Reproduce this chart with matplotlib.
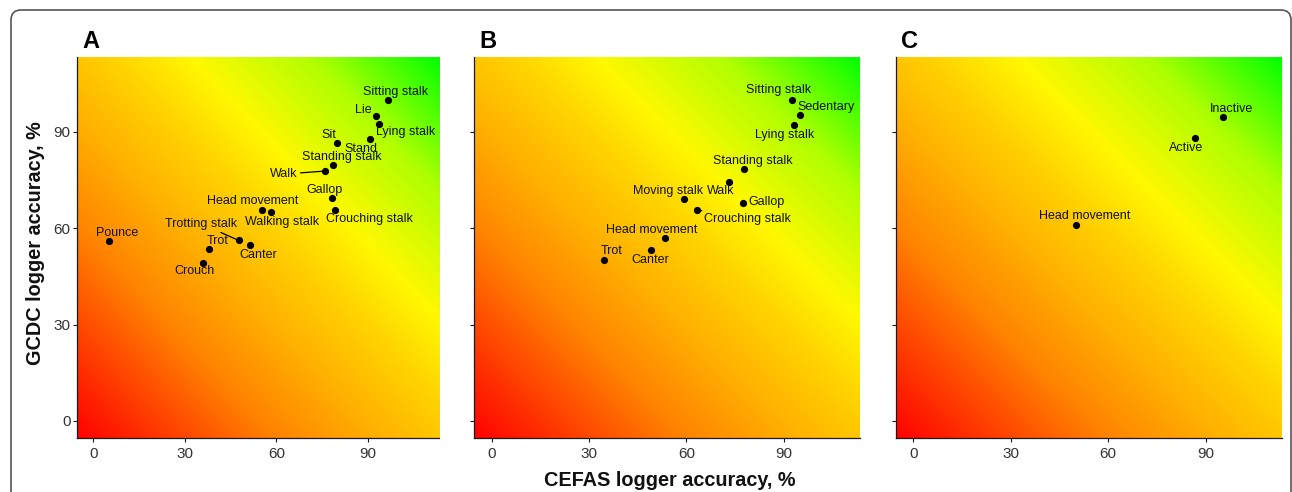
import numpy as np
import matplotlib
matplotlib.use("Agg")
import matplotlib.pyplot as plt
from matplotlib.patches import FancyBboxPatch
from matplotlib.transforms import IdentityTransform

plt.rcParams['font.family'] = ['Liberation Sans', 'DejaVu Sans']

# ---------------- data ----------------
a_labels = ["Sitting stalk", "Lie", "Lying stalk", "Stand", "Sit", "Standing stalk",
            "Walk", "Gallop", "Crouching stalk", "Head movement", "Walking stalk",
            "Trotting stalk", "Canter", "Trot", "Crouch", "Pounce"]
a_cefas = [96.6, 92.8, 93.7, 90.6, 79.9, 78.7, 76.1, 78.4, 79.2, 55.3, 58.4, 47.7, 51.3, 37.8, 35.8, 5.2]
a_gcdc = [99.8, 95.0, 92.6, 87.7, 86.4, 79.8, 77.8, 69.3, 65.7, 65.8, 65.1, 56.2, 54.7, 53.4, 49.3, 55.9]

b_labels = ["Sitting stalk", "Sedentary", "Lying stalk", "Standing stalk", "Walk",
            "Moving stalk", "Gallop", "Crouching stalk", "Head movement", "Canter", "Trot"]
b_cefas = [92.5, 95.0, 93.2, 77.6, 73.2, 59.2, 77.5, 63.3, 53.5, 49.1, 34.5]
b_gcdc = [99.8, 95.3, 92.1, 78.4, 74.4, 69.1, 67.9, 65.7, 57.0, 53.3, 50.2]

c_labels = ["Inactive", "Active", "Head movement"]
c_cefas = [95.2, 86.6, 50.1]
c_gcdc = [94.6, 88.0, 61.1]

panel_letters = ["A", "B", "C"]
tick_values = [0, 30, 60, 90]
x_title = "CEFAS logger accuracy, %"
y_title = "GCDC logger accuracy, %"

# ---------------- layout / style ----------------
W, H = 1292, 492
LIM = (-5.4, 113.4)

# label offsets in pixels (dx, dy up) relative to the point
a_off = {"Sitting stalk": (8, 8.7), "Lie": (-12.7, 5.7), "Lying stalk": (26.7, -8.3),
         "Stand": (-8.3, -9.3), "Sit": (-8.3, 8.7), "Standing stalk": (8.3, 8),
         "Walk": (-41.3, -3), "Gallop": (-8.3, 8.3), "Crouching stalk": (34.7, -9),
         "Head movement": (-9.7, 8.7), "Walking stalk": (10.3, -9.7),
         "Trotting stalk": (-37.7, 16.7), "Canter": (8, -9.3), "Trot": (8.7, 8.7),
         "Crouch": (-8.3, -8.7), "Pounce": (8, 8.7)}
b_off = {"Sitting stalk": (-13.7, 10.3), "Sedentary": (25.7, 7.7), "Lying stalk": (-9.3, -10),
         "Standing stalk": (9, 8.3), "Walk": (-8.7, -8.7), "Moving stalk": (-15.7, 8.3),
         "Gallop": (22.7, 0.7), "Crouching stalk": (50.7, -9), "Head movement": (-14, 8),
         "Canter": (-1, -10), "Trot": (8.3, 8.3)}
c_off = {"Inactive": (8.7, 8.3), "Active": (-9, -9.3), "Head movement": (8.7, 9)}
a_seg = {"Walk", "Trotting stalk"}
b_seg = {"Crouching stalk"}
c_seg = set()

# axes rectangles in pixels: left, right (top/bottom shared)
ax_px = [(77, 439), (474, 860), (895.7, 1281.7)]
TOP, BOT = 56.7, 438.3

# gradient colour stops along (x + y)
stops_s = [-11, 20, 55, 90, 120, 145, 185, 227]
stops_rgb = [(255, 0, 0), (255, 62, 0), (255, 132, 0), (255, 178, 0),
             (255, 212, 0), (255, 248, 0), (175, 255, 0), (0, 255, 0)]


def gradient(n=300):
    g = np.linspace(LIM[0], LIM[1], n)
    X, Y = np.meshgrid(g, g)
    S = X + Y
    rgb = np.array(stops_rgb, dtype=float) / 255.0
    img = np.zeros((n, n, 3))
    for c in range(3):
        img[..., c] = np.interp(S, stops_s, rgb[:, c])
    return img


fig = plt.figure(figsize=(W / 100, H / 100), dpi=100)

panels = [(a_labels, a_cefas, a_gcdc, a_off, a_seg),
          (b_labels, b_cefas, b_gcdc, b_off, b_seg),
          (c_labels, c_cefas, c_gcdc, c_off, c_seg)]

img = gradient()
axis_col = "#1a1a1a"
for i, (labels, xs, ys, off, seg) in enumerate(panels):
    l, r = ax_px[i]
    ax = fig.add_axes([l / W, 1 - BOT / H, (r - l) / W, (BOT - TOP) / H])
    ax.imshow(img, extent=[LIM[0], LIM[1], LIM[0], LIM[1]], origin="lower",
              aspect="auto", interpolation="bilinear", zorder=0)
    ax.set_xlim(LIM)
    ax.set_ylim(LIM)
    ax.scatter(xs, ys, s=27, color="black", zorder=3, linewidths=0)
    for lab, x, y in zip(labels, xs, ys):
        dx, dy = off[lab]
        kw = {}
        if lab in seg:
            kw["arrowprops"] = dict(arrowstyle="-", color="black", lw=0.9,
                                    shrinkA=0, shrinkB=2)
        ax.annotate(lab, (x, y), xytext=(dx, dy), textcoords="offset pixels",
                    ha="center", va="center", fontsize=9, color="#111111",
                    zorder=4, **kw)
    for s in ["top", "right"]:
        ax.spines[s].set_visible(False)
    for s in ["left", "bottom"]:
        ax.spines[s].set_color(axis_col)
        ax.spines[s].set_linewidth(0.9)
    ax.set_xticks(tick_values)
    ax.set_yticks(tick_values)
    ax.set_xticklabels([str(t) for t in tick_values])
    if i == 0:
        ax.set_yticklabels([str(t) for t in tick_values])
    else:
        ax.set_yticklabels([])
    ax.tick_params(axis="both", length=3, width=0.8, color=axis_col,
                   labelsize=11, labelcolor="#333333")
    ax.tick_params(axis="x", pad=3.5)
    ax.tick_params(axis="y", pad=1.5)
    fig.text((l + 5) / W, 1 - 48 / H, panel_letters[i], fontsize=17,
             fontweight="bold", ha="left", va="baseline", color="black")

fig.text(670 / W, 1 - 480 / H, x_title, fontsize=14.3, fontweight="bold",
         ha="center", va="center", color="#111111")
fig.text(36 / W, 1 - 243 / H, y_title, fontsize=14.3, fontweight="bold",
         ha="center", va="center", rotation=90, color="#111111")

frame = FancyBboxPatch((11, -30), 1291 - 11, (H - 10) + 30,
                       boxstyle="round,pad=0,rounding_size=10",
                       transform=IdentityTransform(), fill=False,
                       edgecolor="#555555", linewidth=1.2)
fig.add_artist(frame)

fig.savefig("out.png", dpi=100)
